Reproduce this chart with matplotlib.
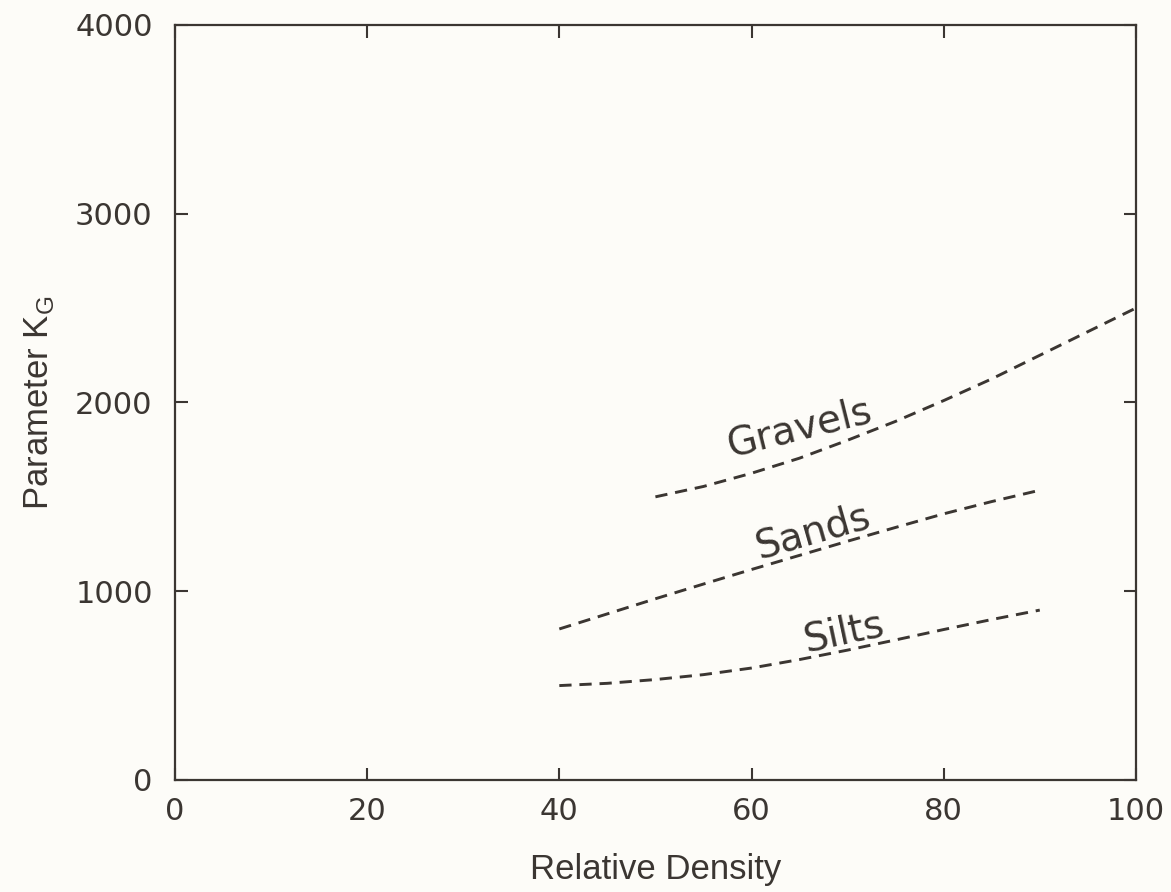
import matplotlib
matplotlib.use("Agg")
import matplotlib.pyplot as plt

# Relative density (%) and parameter K_G for each soil group
gravels_x = [50, 55, 60, 65, 70, 75, 80, 85, 90, 95, 100]
gravels_y = [1500, 1555, 1625, 1705, 1800, 1900, 2010, 2125, 2250, 2375, 2500]

sands_x = [40, 45, 50, 55, 60, 65, 70, 75, 80, 85, 90]
sands_y = [800, 880, 960, 1038, 1115, 1190, 1265, 1338, 1410, 1475, 1535]

silts_x = [40, 45, 50, 55, 60, 65, 70, 75, 80, 85, 90]
silts_y = [500, 512, 532, 558, 593, 638, 688, 742, 797, 850, 900]

x_ticks = [0, 20, 40, 60, 80, 100]
y_ticks = [0, 1000, 2000, 3000, 4000]

ink = "#3b3632"
paper = "#fdfcf8"

fig = plt.figure(figsize=(11.71, 8.92), dpi=100, facecolor=paper)
ax = fig.add_axes([0.1494, 0.1256, 0.8206, 0.8464], facecolor=paper)

line_kw = dict(color=ink, linewidth=2.1, linestyle=(0, (4.2, 2.7)))
ax.plot(gravels_x, gravels_y, **line_kw)
ax.plot(sands_x, sands_y, **line_kw)
ax.plot(silts_x, silts_y, **line_kw)

label_kw = dict(color=ink, fontsize=28, family="DejaVu Sans",
                ha="center", va="center", rotation_mode="anchor")
ax.text(65.0, 1865, "Gravels", rotation=14, **label_kw)
ax.text(66.4, 1315, "Sands", rotation=16, **label_kw)
ax.text(69.6, 785, "Silts", rotation=12, **label_kw)

ax.set_xlim(0, 100)
ax.set_ylim(0, 4000)
ax.set_xticks(x_ticks)
ax.set_yticks(y_ticks)

for s in ax.spines.values():
    s.set_color(ink)
    s.set_linewidth(1.6)

ax.tick_params(direction="in", length=9, width=1.5, color=ink,
               top=True, right=True, labelcolor=ink, labelsize=22)
ax.tick_params(axis="y", pad=16)
ax.tick_params(axis="x", pad=12)
for lab in ax.get_xticklabels() + ax.get_yticklabels():
    lab.set_family("DejaVu Sans")

ax.set_xlabel("Relative Density", family="Liberation Sans", fontsize=25,
              color=ink, labelpad=20)
ax.set_ylabel("Parameter K$_\\mathregular{G}$", family="Liberation Sans",
              fontsize=25, color=ink, labelpad=14)

fig.savefig("out.png", dpi=100, facecolor=paper)
